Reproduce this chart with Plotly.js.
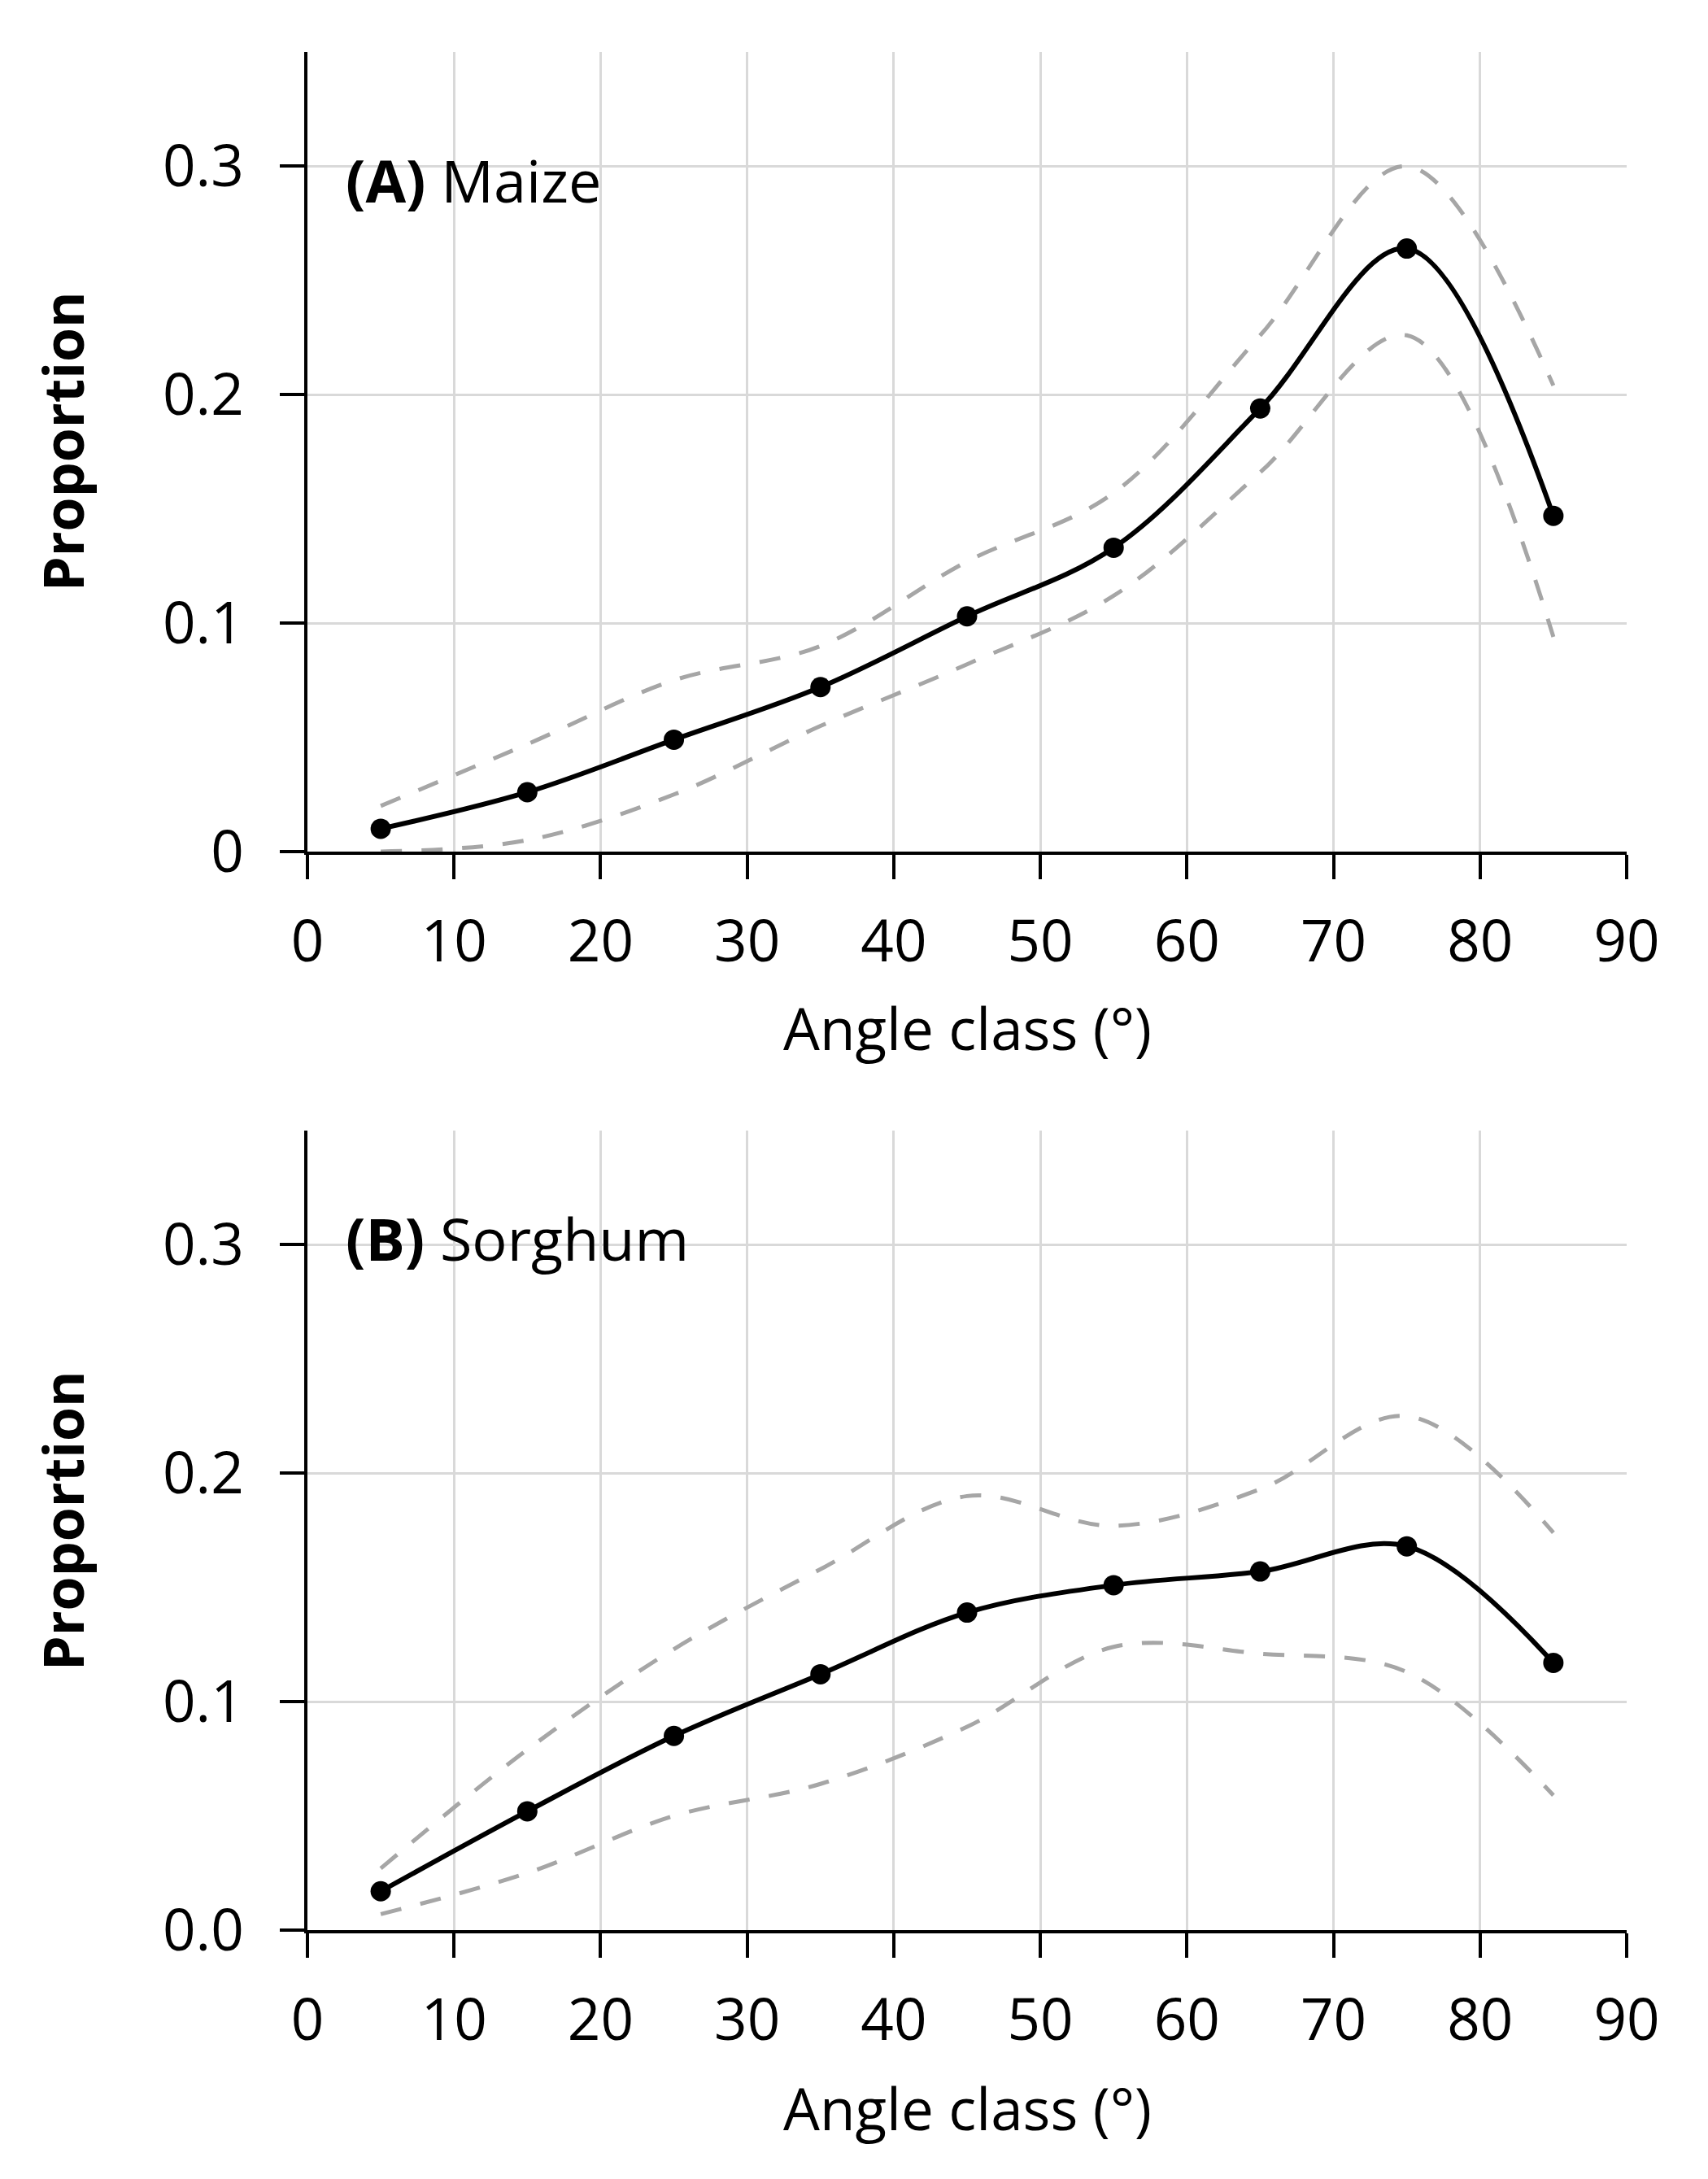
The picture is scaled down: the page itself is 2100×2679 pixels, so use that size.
<!DOCTYPE html>
<html>
<head>
<meta charset="utf-8">
<script src="https://cdn.plot.ly/plotly-3.0.1.min.js"></script>
<style>
  html, body { margin: 0; padding: 0; background: #fff; }
  #chart { width: 2100px; height: 2679px; }
</style>
</head>
<body>
<div id="chart"></div>
<script>
// angle classes (midpoints, degrees)
const ANGLES = [5, 15, 25, 35, 45, 55, 65, 75, 85];

// (A) maize: mean proportion and the dashed band
const MAIZE_MEAN  = [0.010, 0.026, 0.049, 0.072, 0.103, 0.133, 0.194, 0.264, 0.147];
const MAIZE_UPPER = [0.020, 0.047, 0.075, 0.090, 0.127, 0.157, 0.226, 0.300, 0.204];
const MAIZE_LOWER = [0.000, 0.005, 0.025, 0.055, 0.082, 0.112, 0.166, 0.226, 0.094];

// (B) sorghum
const SORGHUM_MEAN  = [0.017, 0.052, 0.085, 0.112, 0.139, 0.151, 0.157, 0.168, 0.117];
const SORGHUM_UPPER = [0.027, 0.079, 0.123, 0.158, 0.190, 0.177, 0.193, 0.225, 0.174];
const SORGHUM_LOWER = [0.007, 0.025, 0.050, 0.064, 0.089, 0.124, 0.121, 0.113, 0.059];

// ticks
const X_TICKS = [0, 10, 20, 30, 40, 50, 60, 70, 80, 90];
const Y_TICKS = [0, 0.1, 0.2, 0.3];
const Y_LABELS_A = ['0', '0.1', '0.2', '0.3'];
const Y_LABELS_B = ['0.0', '0.1', '0.2', '0.3'];

const FONT = 'Open Sans, Noto Sans, sans-serif';
const GRID = '#d9d9d9';
const BAND = '#a6a6a6';

function xAxis(domain, anchor) {
  return {
    domain, anchor,
    range: [0, 90], tickvals: X_TICKS, ticktext: X_TICKS.map(String),
    showline: true, linecolor: '#000', linewidth: 4,
    ticks: 'outside', ticklen: 30, tickwidth: 4, tickcolor: '#000',
    ticklabelstandoff: 16,
    showgrid: true, gridcolor: GRID, gridwidth: 3, zeroline: false,
    tickfont: { family: FONT, size: 71, color: '#000' },
    fixedrange: true,
  };
}

function yAxis(domain, anchor, labels) {
  return {
    domain, anchor,
    range: [0, 0.35], tickvals: Y_TICKS, ticktext: labels,
    showline: true, linecolor: '#000', linewidth: 4,
    ticks: 'outside', ticklen: 30, tickwidth: 4, tickcolor: '#000',
    ticklabelstandoff: 30,
    showgrid: true, gridcolor: GRID, gridwidth: 3, zeroline: false,
    tickfont: { family: FONT, size: 71, color: '#000' },
    fixedrange: true,
  };
}

function panel(mean, upper, lower, xa, ya) {
  const band = ys => ({
    x: ANGLES, y: ys, xaxis: xa, yaxis: ya,
    type: 'scatter', mode: 'lines',
    line: { color: BAND, width: 5, dash: '26px,24px', shape: 'spline', smoothing: 1 },
    hoverinfo: 'skip',
  });
  return [
    band(upper),
    band(lower),
    {
      x: ANGLES, y: mean, xaxis: xa, yaxis: ya,
      type: 'scatter', mode: 'lines+markers',
      line: { color: '#000', width: 6, shape: 'spline', smoothing: 1 },
      marker: { color: '#000', size: 25 },
      cliponaxis: false,
    },
  ];
}

const traces = [
  ...panel(MAIZE_MEAN, MAIZE_UPPER, MAIZE_LOWER, 'x', 'y'),
  ...panel(SORGHUM_MEAN, SORGHUM_UPPER, SORGHUM_LOWER, 'x2', 'y2'),
];

const H = 2679;
const py = px => 1 - px / H;
const X_DOM = [378 / 2100, 2000 / 2100];

const txt = (text, x, y, extra) => Object.assign({
  text, x, y, xref: 'paper', yref: 'paper', showarrow: false,
  xanchor: 'center', yanchor: 'middle',
  font: { family: FONT, size: 71, color: '#000' },
}, extra);

const layout = {
  width: 2100, height: H,
  margin: { l: 0, r: 0, t: 0, b: 0 },
  paper_bgcolor: '#fff', plot_bgcolor: '#fff',
  showlegend: false,
  xaxis: xAxis(X_DOM, 'y'),
  yaxis: yAxis([py(1047), py(64)], 'x', Y_LABELS_A),
  xaxis2: xAxis(X_DOM, 'y2'),
  yaxis2: yAxis([py(2373), py(1390)], 'x2', Y_LABELS_B),
  annotations: [
    txt('<b>(A)</b> Maize', 2.5, 0.294, { xref: 'x', yref: 'y', xanchor: 'left', font: { family: FONT, size: 72, color: '#000' } }),
    txt('<b>(B)</b> Sorghum', 2.5, 0.303, { xref: 'x2', yref: 'y2', xanchor: 'left', font: { family: FONT, size: 72, color: '#000' } }),
    txt('Angle class (°)', 1189 / 2100, py(1263)),
    txt('Angle class (°)', 1189 / 2100, py(2591)),
    txt('<b>Proportion</b>', 76 / 2100, py(543), { textangle: -90, font: { family: FONT, size: 68, color: '#000' } }),
    txt('<b>Proportion</b>', 76 / 2100, py(1870), { textangle: -90, font: { family: FONT, size: 68, color: '#000' } }),
  ],
};

Plotly.newPlot('chart', traces, layout, { displayModeBar: false, staticPlot: true });
</script>
</body>
</html>
